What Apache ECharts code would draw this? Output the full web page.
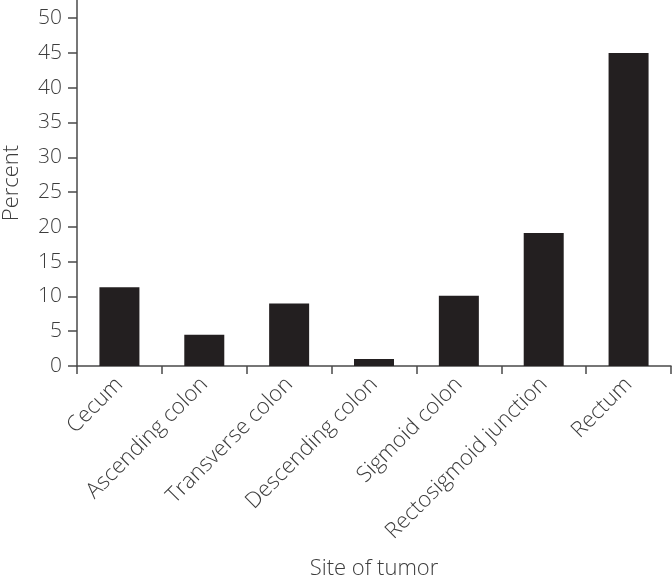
<!DOCTYPE html>
<html>
<head>
<meta charset="utf-8">
<script src="https://cdn.jsdelivr.net/npm/echarts@6/dist/echarts.min.js"></script>
<style>
html,body{margin:0;padding:0;background:#fff;}
#c{width:672px;height:577px;}
</style>
</head>
<body>
<div id="c"></div>
<script>
const categories = ["Cecum", "Ascending colon", "Transverse colon", "Descending colon", "Sigmoid colon", "Rectosigmoid junction", "Rectum"];
const percentValues = [11.3, 4.5, 9.0, 1.0, 10.1, 19.1, 45.0];
const yTickValues = [0, 5, 10, 15, 20, 25, 30, 35, 40, 45, 50];

const FONT = "'Open Sans', 'Liberation Sans', sans-serif";
const TXT = '#3d3d3d';
const AX = '#4a4a4a';

const chart = echarts.init(document.getElementById('c'));
chart.setOption({
  animation: false,
  backgroundColor: '#fff',
  grid: { left: 77, right: 1, top: 0, bottom: 211, containLabel: false, outerBoundsMode: 'none' },
  xAxis: {
    type: 'category',
    data: categories,
    name: 'Site of tumor',
    nameLocation: 'middle',
    nameGap: 192,
    nameMoveOverlap: false,
    nameTextStyle: { fontFamily: FONT, fontWeight: 300, fontSize: 22, color: TXT },
    axisLine: { lineStyle: { color: AX, width: 1.5 } },
    axisTick: { show: true, length: 8, lineStyle: { color: AX, width: 1.5 } },
    axisLabel: { rotate: 45, margin: 15, fontFamily: FONT, fontWeight: 300, fontSize: 22, color: TXT, interval: 0 }
  },
  yAxis: {
    type: 'value',
    min: 0,
    max: 52.6,
    name: 'Percent',
    nameLocation: 'middle',
    nameGap: 54,
    nameMoveOverlap: false,
    nameTextStyle: { fontFamily: FONT, fontWeight: 300, fontSize: 22, color: TXT },
    splitLine: { show: false },
    axisLine: { show: true, lineStyle: { color: AX, width: 1.5 } },
    axisTick: { show: true, length: 9, customValues: yTickValues, lineStyle: { color: AX, width: 1.5 } },
    axisLabel: { margin: 15, customValues: yTickValues, fontFamily: FONT, fontWeight: 300, fontSize: 21, color: TXT }
  },
  series: [{
    type: 'bar',
    data: percentValues,
    barWidth: 40,
    itemStyle: { color: '#231f20' }
  }]
});
</script>
</body>
</html>
